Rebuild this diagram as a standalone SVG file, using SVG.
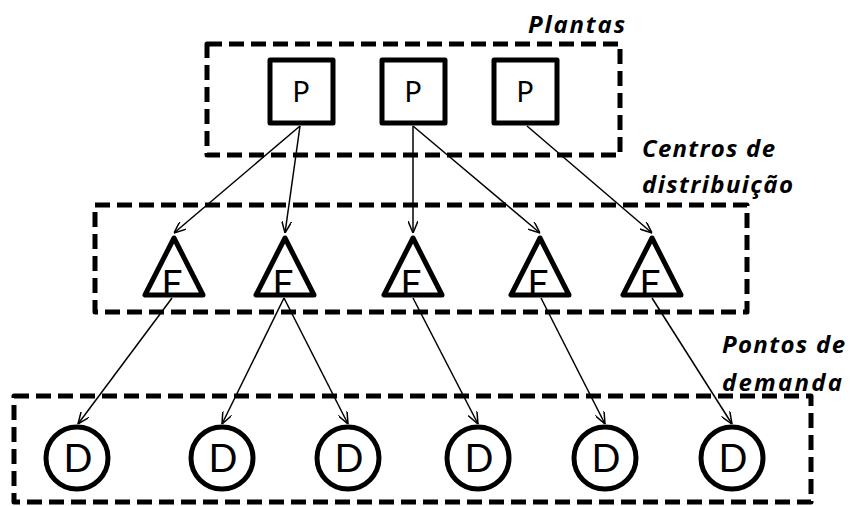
<svg xmlns="http://www.w3.org/2000/svg" width="850" height="506" viewBox="0 0 850 506">
  <defs>
    <marker id="arrow" viewBox="0 0 12 10" refX="12" refY="5" markerWidth="12" markerHeight="10" markerUnits="userSpaceOnUse" orient="auto">
      <path d="M0,0 L12,5 L0,10" fill="none" stroke="#000" stroke-width="1.5"/>
    </marker>
    <style>
      .group { fill: none; stroke: #000; stroke-width: 5; stroke-dasharray: 15 7; stroke-linejoin: round; }
      .node { fill: #fff; stroke: #000; stroke-width: 5; stroke-linejoin: round; }
      .edge { stroke: #000; stroke-width: 1.5; fill: none; marker-end: url(#arrow); }
      .lbl { font-family: Lato, "Liberation Sans", sans-serif; fill: #000; text-anchor: middle; }
      .title { font-family: "Open Sans", "Liberation Sans", sans-serif; font-weight: 700; font-style: italic; font-size: 24px; fill: #000; }
    </style>
  </defs>
  <rect width="850" height="506" fill="#fff"/>

  <!-- layer frames -->
  <g id="frames">
    <rect class="group" x="207" y="44" width="413" height="111"/>
    <rect class="group" x="95" y="205" width="652" height="107"/>
    <rect class="group" x="14" y="396" width="797" height="106"/>
  </g>

  <!-- layer titles -->
  <g id="titles">
    <text class="title" x="528" y="33" textLength="97" lengthAdjust="spacing">Plantas</text>
    <text class="title" x="642" y="157" textLength="133" lengthAdjust="spacing">Centros de</text>
    <text class="title" x="642" y="193" textLength="151" lengthAdjust="spacing">distribuição</text>
    <text class="title" x="722" y="353" textLength="123" lengthAdjust="spacing">Pontos de</text>
    <text class="title" x="722" y="391" textLength="120" lengthAdjust="spacing">demanda</text>
  </g>

  <!-- connectors -->
  <g id="connectors">
    <line class="edge" x1="300" y1="126" x2="174" y2="233"/>
    <line class="edge" x1="300" y1="126" x2="285" y2="233"/>
    <line class="edge" x1="413" y1="126" x2="413" y2="233"/>
    <line class="edge" x1="413" y1="126" x2="540" y2="233"/>
    <line class="edge" x1="527" y1="126" x2="652" y2="233"/>
    <line class="edge" x1="172" y1="298" x2="78" y2="424"/>
    <line class="edge" x1="284" y1="298" x2="222" y2="424"/>
    <line class="edge" x1="284" y1="298" x2="348" y2="424"/>
    <line class="edge" x1="413" y1="298" x2="478" y2="424"/>
    <line class="edge" x1="541" y1="298" x2="605" y2="424"/>
    <line class="edge" x1="652" y1="298" x2="732" y2="424"/>
  </g>

  <!-- plants -->
  <g id="plant1"><rect class="node" x="270" y="60" width="63" height="63"/><text class="lbl" x="301" y="102" font-size="28">P</text></g>
  <g id="plant2"><rect class="node" x="382" y="60" width="63" height="63"/><text class="lbl" x="413" y="102" font-size="28">P</text></g>
  <g id="plant3"><rect class="node" x="494" y="60" width="63" height="63"/><text class="lbl" x="525" y="102" font-size="28">P</text></g>

  <!-- distribution centres -->
  <g id="dc1"><polygon class="node" points="174,238 145,295 203,295"/><text class="lbl" x="172" y="296" font-size="37">F</text></g>
  <g id="dc2"><polygon class="node" points="285,238 256,295 314,295"/><text class="lbl" x="283" y="296" font-size="37">F</text></g>
  <g id="dc3"><polygon class="node" points="413,238 384,295 442,295"/><text class="lbl" x="411" y="296" font-size="37">F</text></g>
  <g id="dc4"><polygon class="node" points="540,238 511,295 569,295"/><text class="lbl" x="538" y="296" font-size="37">F</text></g>
  <g id="dc5"><polygon class="node" points="652,238 623,295 681,295"/><text class="lbl" x="650" y="296" font-size="37">F</text></g>

  <!-- demand points -->
  <g id="dp1"><circle class="node" cx="77" cy="458" r="31"/><text class="lbl" x="78" y="472" font-size="38">D</text></g>
  <g id="dp2"><circle class="node" cx="222" cy="458" r="31"/><text class="lbl" x="223" y="472" font-size="38">D</text></g>
  <g id="dp3"><circle class="node" cx="348" cy="458" r="31"/><text class="lbl" x="349" y="472" font-size="38">D</text></g>
  <g id="dp4"><circle class="node" cx="478" cy="458" r="31"/><text class="lbl" x="479" y="472" font-size="38">D</text></g>
  <g id="dp5"><circle class="node" cx="605" cy="458" r="31"/><text class="lbl" x="606" y="472" font-size="38">D</text></g>
  <g id="dp6"><circle class="node" cx="732" cy="458" r="31"/><text class="lbl" x="733" y="472" font-size="38">D</text></g>
</svg>
